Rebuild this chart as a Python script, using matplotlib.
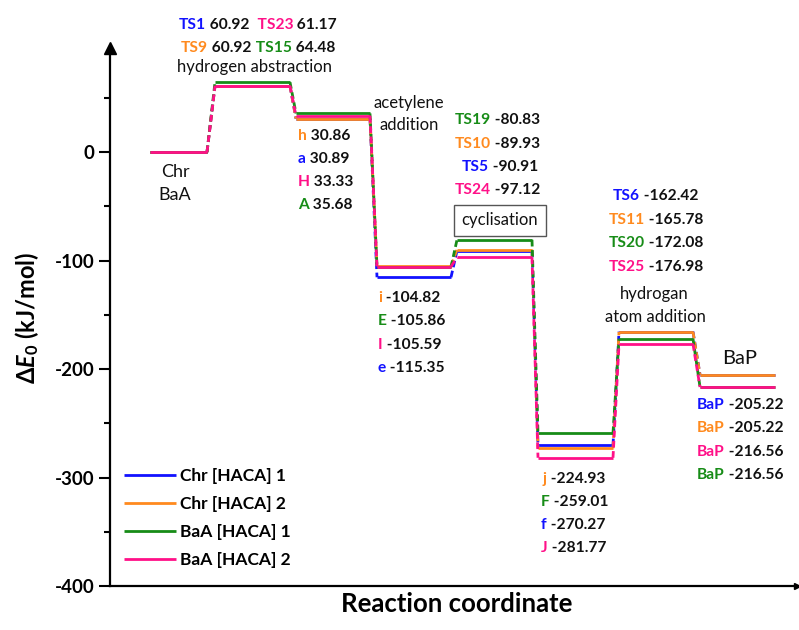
import matplotlib
matplotlib.use("Agg")
import matplotlib.pyplot as plt
from matplotlib.ticker import MultipleLocator

plt.rcParams['font.family'] = ['Lato', 'DejaVu Sans']
plt.rcParams['axes.unicode_minus'] = False
plt.rcParams['mathtext.fontset'] = 'custom'
plt.rcParams['mathtext.rm'] = 'Lato:bold'
plt.rcParams['mathtext.it'] = 'Lato:italic:bold'
plt.rcParams['mathtext.bf'] = 'Lato:bold'

# ---------------- data ----------------
series_names = ['Chr [HACA] 1', 'Chr [HACA] 2', 'BaA [HACA] 1', 'BaA [HACA] 2']
chr1 = [0, 60.92, 30.89, -115.35, -90.91, -270.27, -165.5, -205.22]
chr2 = [0, 60.92, 30.86, -104.82, -89.93, -273.0, -165.78, -205.22]
baa1 = [0, 64.48, 35.68, -105.86, -80.83, -259.01, -172.08, -216.56]
baa2 = [0, 61.17, 33.33, -105.59, -97.12, -281.77, -176.98, -216.56]
yticks = [0, -100, -200, -300, -400]

colors = ['#1212FF', '#FF8A1E', '#178C17', '#FF1088']
BLACK = '#111111'

# level x extents (layout, pixel-based x axis)
x_start = [150, 215, 296, 377, 457, 538, 619, 700]
x_end = [207, 290, 370, 451, 532, 613, 693, 775]

W, H = 799, 630
fig = plt.figure(figsize=(W / 100, H / 100), dpi=100)
ax = fig.add_axes([110 / W, (H - 586) / H, (797 - 110) / W, (586 - 48) / H])
ax.set_xlim(110, 797)
ax.set_ylim(-400, 96)

for vals, c, name in zip([chr1, chr2, baa1, baa2], colors, series_names):
    for k in range(len(vals)):
        ax.plot([x_start[k], x_end[k]], [vals[k], vals[k]], color=c, lw=2.0,
                solid_capstyle='butt', label=name if k == 0 else None)
    for k in range(len(vals) - 1):
        ax.plot([x_end[k], x_start[k + 1]], [vals[k], vals[k + 1]], color=c, lw=2.0,
                dashes=(2.4, 1.3))

# axes styling
for s in ['top', 'right']:
    ax.spines[s].set_visible(False)
for s in ['left', 'bottom']:
    ax.spines[s].set_linewidth(1.6)
ax.set_xticks([])
ax.set_yticks(yticks)
ax.yaxis.set_minor_locator(MultipleLocator(50))
ax.tick_params(axis='y', which='major', length=8, width=1.5, pad=3, labelsize=13.5)
ax.tick_params(axis='y', which='minor', length=4, width=1.5)
for lab in ax.get_yticklabels():
    lab.set_fontweight('bold')
ax.plot(0, 1, marker='^', color='black', markersize=8, transform=ax.transAxes, clip_on=False)
ax.plot(1, 0, marker='>', color='black', markersize=4, transform=ax.transAxes, clip_on=False)

fig.text(27 / W, 1 - 318 / H, r'$\Delta\mathit{E}_{\mathit{0}}$ (kJ/mol)', rotation=90,
         ha='center', va='center', fontsize=17, fontweight='bold')
fig.text(457 / W, 1 - 604 / H, 'Reaction coordinate', ha='center', va='center',
         fontsize=18.5, fontweight='bold')

leg = ax.legend(loc='upper left', bbox_to_anchor=((124 - 110) / (797 - 110), 1 - (468 - 48) / (586 - 48)),
                frameon=False, fontsize=12.5, handlelength=3.0, handletextpad=0.25,
                labelspacing=0.69, borderaxespad=0, borderpad=0)
for t in leg.get_texts():
    t.set_fontweight('bold')


def ftext(px, py, s, **kw):
    return fig.text(px / W, 1 - py / H, s, **kw)


def multi(px, py, parts, size=11.2):
    t = ftext(px, py, parts[0][0], color=parts[0][1], fontsize=size, fontweight='bold',
              va='center', ha='left')
    prev = t
    for s, c in parts[1:]:
        prev = ax.annotate(s, xy=(1, 0), xycoords=prev, xytext=(0, 0), textcoords='offset points',
                           va='bottom', ha='left', color=c, fontsize=size, fontweight='bold',
                           annotation_clip=False)
    return t


B, O, G, P = colors

# hydrogen abstraction TS
multi(179, 25, [('TS1', B), (' 60.92', BLACK), ('  TS23', P), (' 61.17', BLACK)])
multi(181, 48, [('TS9', O), (' 60.92', BLACK), (' TS15', G), (' 64.48', BLACK)])
ftext(254, 67, 'hydrogen abstraction', ha='center', va='center', fontsize=12, color=BLACK)

ftext(175, 172, 'Chr', ha='center', va='center', fontsize=13, color=BLACK)
ftext(175, 195, 'BaA', ha='center', va='center', fontsize=13, color=BLACK)

# intermediates after abstraction
for i, (lab, val, c) in enumerate([('h', '30.86', O), ('a', '30.89', B), ('H', '33.33', P), ('A', '35.68', G)]):
    multi(298, 136 + 23 * i, [(lab, c), (' ' + val, BLACK)])

ftext(409, 103, 'acetylene', ha='center', va='center', fontsize=12, color=BLACK)
ftext(409, 125, 'addition', ha='center', va='center', fontsize=12, color=BLACK)

# cyclisation TS
for i, (lab, val, c, x0) in enumerate([('TS19', '-80.83', G, 455), ('TS10', '-89.93', O, 455),
                                       ('TS5', '-90.91', B, 462), ('TS24', '-97.12', P, 455)]):
    multi(x0, 120 + 23.5 * i, [(lab, c), (' ' + val, BLACK)])
ftext(500, 220, 'cyclisation', ha='center', va='center', fontsize=12, color=BLACK,
      bbox=dict(boxstyle='square,pad=0.45', fc='white', ec='#555555', lw=1.0))

# acetylene adducts
for i, (lab, val, c) in enumerate([('i', '-104.82', O), ('E', '-105.86', G), ('I', '-105.59', P), ('e', '-115.35', B)]):
    multi(378, 298 + 23.3 * i, [(lab, c), (' ' + val, BLACK)])

# H addition TS
for i, (lab, val, c, x0) in enumerate([('TS6', '-162.42', B, 613), ('TS11', '-165.78', O, 609),
                                       ('TS20', '-172.08', G, 609), ('TS25', '-176.98', P, 609)]):
    multi(x0, 196 + 23.6 * i, [(lab, c), (' ' + val, BLACK)])
ftext(654, 294, 'hydrogan', ha='center', va='center', fontsize=12, color=BLACK)
ftext(655, 317, 'atom addition', ha='center', va='center', fontsize=12, color=BLACK)

# cyclised intermediates
for i, (lab, val, c, x0) in enumerate([('j', '-224.93', O, 543), ('F', '-259.01', G, 541),
                                       ('f', '-270.27', B, 541), ('J', '-281.77', P, 541)]):
    multi(x0, 479 + 23 * i, [(lab, c), (' ' + val, BLACK)])

# BaP
ftext(740, 358, 'BaP', ha='center', va='center', fontsize=14.5, color=BLACK)
for i, (val, c) in enumerate([('-205.22', B), ('-205.22', O), ('-216.56', P), ('-216.56', G)]):
    multi(697, 405 + 23.4 * i, [('BaP', c), (' ' + val, BLACK)])

fig.savefig('out.png', dpi=100)
